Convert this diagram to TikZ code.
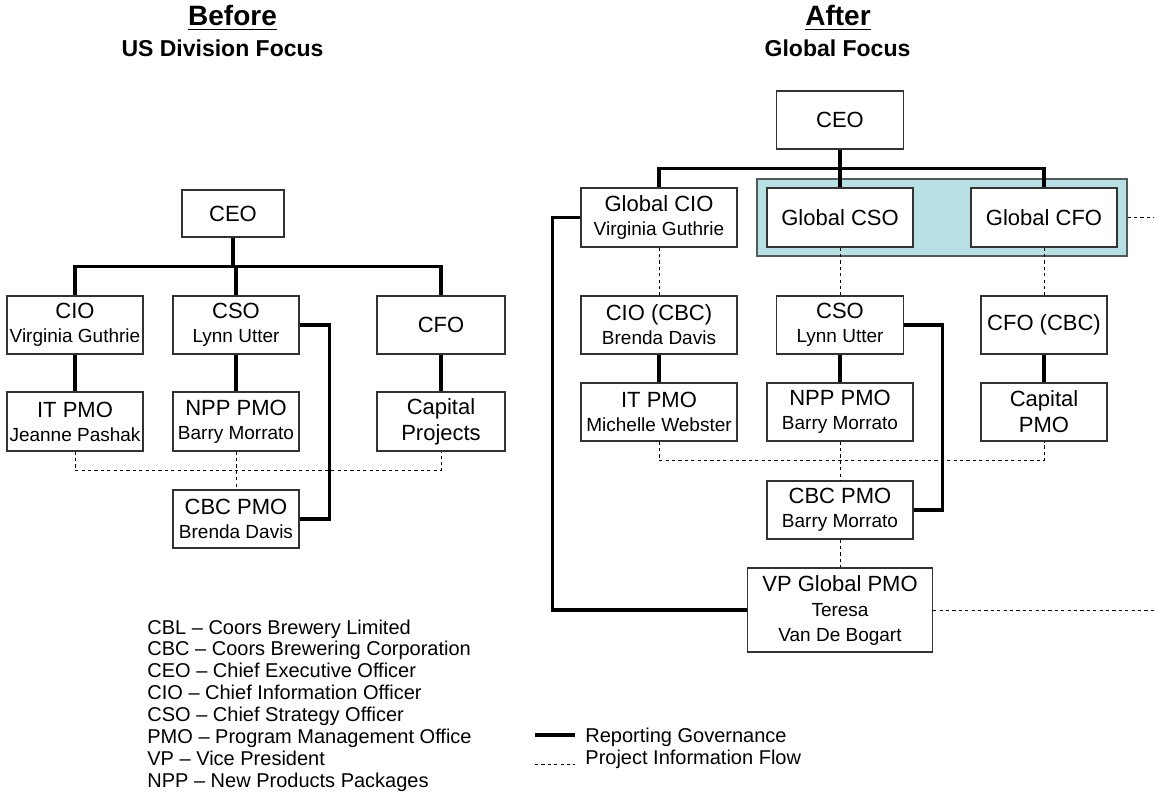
\documentclass[tikz,border=0pt]{standalone}
\usepackage{fontspec}
\setmainfont{Liberation Sans}
\definecolor{boxline}{RGB}{50,50,50}
\definecolor{bandfill}{RGB}{184,223,227}
\definecolor{bandline}{RGB}{80,90,90}
\newcommand{\who}[1]{{\fontsize{9.5}{12}\selectfont #1}}
\tikzset{
  orgbox/.style={draw=boxline,fill=white,line width=0.6pt,inner sep=0pt,align=center,
    font=\fontsize{11}{12}\selectfont},
  boxsize/.style 2 args={minimum width=#1*0.5pt,minimum height=#2*0.5pt},
  report/.style={line width=1.6pt},
  infoflow/.style={line width=0.5pt,dash pattern=on 1.6pt off 1.6pt},
  heading/.style={anchor=base,inner sep=0pt,font=\fontsize{14}{16}\selectfont\bfseries},
  subheading/.style={anchor=base,inner sep=0pt,font=\fontsize{11.5}{14}\selectfont\bfseries},
  legendtext/.style={anchor=base west,inner sep=0pt,font=\fontsize{10}{12}\selectfont}
}
\begin{document}
\begin{tikzpicture}[x=0.5pt,y=-0.5pt]
  \useasboundingbox (0,0) rectangle (1154,801);

  % titles
  \node (T1) [heading] at (232.5,26) {\underline{Before}};
  \node (S1) [subheading] at (222.5,57) {US Division Focus};
  \node (T2) [heading] at (838,26) {\underline{After}};
  \node (S2) [subheading] at (837.5,57) {Global Focus};

  % before: US division
  \node (CEO) [orgbox,boxsize={102}{47}] at (233,213.5) {CEO};
  \node (CIO) [orgbox,boxsize={136}{58}] at (75,325) {CIO\\\who{Virginia Guthrie}};
  \node (CSO) [orgbox,boxsize={126}{58}] at (236,325) {CSO\\\who{Lynn Utter}};
  \node (CFO) [orgbox,boxsize={128}{58}] at (441,325) {CFO};
  \node (ITL) [orgbox,boxsize={136}{59}] at (75,421.5) {IT PMO\\\who{Jeanne Pashak}};
  \node (NPPL) [orgbox,boxsize={126}{59}] at (236,421.5) {NPP PMO\\\who{Barry Morrato}};
  \node (CapL) [orgbox,boxsize={128}{59},font=\fontsize{11}{13}\selectfont] at (441,421.5) {Capital\\Projects};
  \node (CBCL) [orgbox,boxsize={126}{58}] at (236,519) {CBC PMO\\\who{Brenda Davis}};

  \draw[infoflow] (ITL.south) -- ++(0,19) -| (CapL.south);
  \draw[infoflow] (NPPL.south) -- (CBCL.north);
  \draw[report] (CEO.south) -- ++(0,30);
  \draw[report] (CIO.north) -- ++(0,-29) -| (CFO.north);
  \draw[report] (CSO.north) -- ++(0,-29);
  \draw[report] (CIO) -- (ITL);
  \draw[report] (CSO) -- (NPPL);
  \draw[report] (CFO) -- (CapL);
  \draw[report] (CSO.east) -- ++(30,0) |- (CBCL.east);

  % after: global
  \node (band) [draw=bandline,fill=bandfill,line width=0.6pt,inner sep=0pt,boxsize={370}{77}] at (942,217.5) {};
  \coordinate (edgeA) at (1154,217.5);
  \coordinate (edgeB) at (1154,610);
  \node (CEOr) [orgbox,boxsize={127}{58}] at (840,120) {CEO};
  \node (GCIO) [orgbox,boxsize={156}{59}] at (659,217.5) {Global CIO\\\who{Virginia Guthrie}};
  \node (GCSO) [orgbox,boxsize={146}{59}] at (840,217.5) {Global CSO};
  \node (GCFO) [orgbox,boxsize={146}{59}] at (1044,217.5) {Global CFO};
  \node (CIOr) [orgbox,boxsize={156}{58}] at (659,325) {CIO (CBC)\\\who{Brenda Davis}};
  \node (CSOr) [orgbox,boxsize={127}{58}] at (840,325) {CSO\\\who{Lynn Utter}};
  \node (CFOr) [orgbox,boxsize={126}{58}] at (1044,325) {CFO (CBC)};
  \node (ITr) [orgbox,boxsize={156}{58}] at (659,412) {IT PMO\\\who{Michelle Webster}};
  \node (NPPr) [orgbox,boxsize={146}{58}] at (840,412) {NPP PMO\\\who{Barry Morrato}};
  \node (CapR) [orgbox,boxsize={126}{58},font=\fontsize{11}{13}\selectfont] at (1044,412) {Capital\\PMO};
  \node (CBCr) [orgbox,boxsize={146}{58}] at (840,510) {CBC PMO\\\who{Barry Morrato}};
  \node (VP) [orgbox,boxsize={185}{84},font=\fontsize{11}{12.5}\selectfont] at (840,610)
    {VP Global PMO\\{\fontsize{9.5}{12.5}\selectfont Teresa}\\{\fontsize{9.5}{12.5}\selectfont Van De Bogart}};

  \draw[infoflow] (GCIO) -- (CIOr);
  \draw[infoflow] (GCSO) -- (CSOr);
  \draw[infoflow] (GCFO) -- (CFOr);
  \draw[infoflow] (band.east) -- (edgeA);
  \draw[infoflow] (ITr.south) -- ++(0,19) -| (CapR.south);
  \draw[infoflow] (NPPr) -- (CBCr);
  \draw[infoflow] (CBCr) -- (VP);
  \draw[infoflow] (VP.east) -- (edgeB);
  \draw[report] (CEOr.south) -- ++(0,20);
  \draw[report] (GCIO.north) -- ++(0,-19) -| (GCFO.north);
  \draw[report] (GCSO.north) -- ++(0,-19);
  \draw[report] (CIOr) -- (ITr);
  \draw[report] (CSOr) -- (NPPr);
  \draw[report] (CFOr) -- (CapR);
  \draw[report] (CSOr.east) -- ++(38,0) |- (CBCr.east);
  \draw[report] (GCIO.west) -- ++(-28,0) |- (VP.west);

  % abbreviations
  \foreach \txt [count=\i from 0] in {CBL – Coors Brewery Limited,CBC – Coors Brewering Corporation,
      CEO – Chief Executive Officer,CIO – Chief Information Officer,CSO – Chief Strategy Officer,
      PMO – Program Management Office,VP – Vice President,NPP – New Products Packages}
    \node (abbr\i) [legendtext] at (147,{634+21.9*\i}) {\txt};

  % line legend
  \coordinate (lgA) at (535,735);
  \coordinate (lgB) at (575,735);
  \coordinate (lgC) at (535,764);
  \coordinate (lgD) at (575,764);
  \draw[report] (lgA) -- (lgB);
  \draw[infoflow] (lgC) -- (lgD);
  \node (lgR) [legendtext] at (585,742) {Reporting Governance};
  \node (lgP) [legendtext] at (585,764) {Project Information Flow};
\end{tikzpicture}
\end{document}
